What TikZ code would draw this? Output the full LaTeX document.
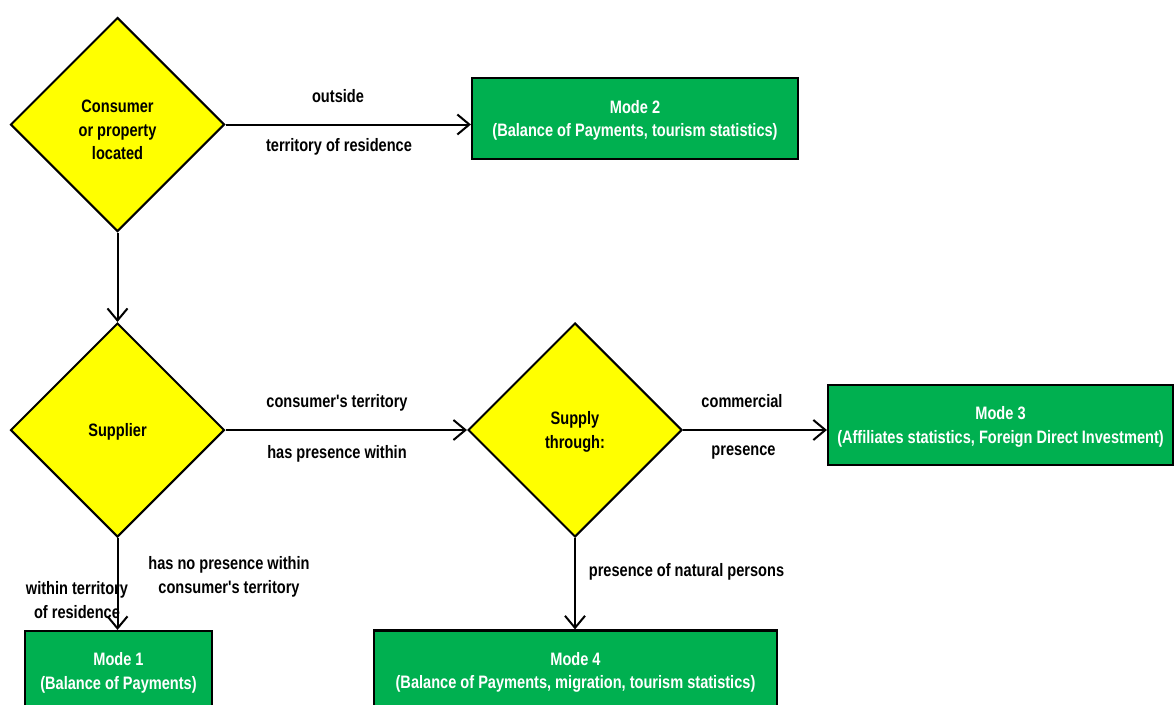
\documentclass[tikz,border=0pt]{standalone}
\usepackage{fontspec}
\setmainfont{Liberation Sans}[FakeStretch=0.81,Ligatures=TeXOff]
\usetikzlibrary{shapes.geometric,arrows.meta}
\definecolor{dyellow}{HTML}{FFFF00}
\definecolor{mgreen}{HTML}{00B050}
\begin{document}
\begin{tikzpicture}[x=1pt,y=-1pt,
  every node/.style={font=\fontsize{18}{23.5}\selectfont\bfseries},
  decision/.style={diamond,draw=black,line width=2pt,fill=dyellow,minimum width=214pt,minimum height=214pt,inner sep=0pt,align=center,aspect=1,text depth=0pt},
  modebox/.style={rectangle,draw=black,line width=2.2pt,fill=mgreen,text=white,align=center,inner sep=0pt,text depth=0pt},
  lbl/.style={inner sep=0pt,align=center,text=black},
  arr/.style={draw=black,line width=2pt,-{Straight Barb[length=12pt,width=20pt,line width=2pt]}}]
\useasboundingbox (0,0) rectangle (1175,704);
\clip (0,0) rectangle (1175,704);
% decisions
\node[decision] (D1) at (117.5,124.5) {\\[0pt]Consumer\\or property\\located};
\node[decision] (D2) at (117.5,430) {Supplier};
\node[decision] (D3) at (575,430) {Supply\\through:};
% mode boxes
\node[modebox,minimum width=326pt,minimum height=81pt] (M2) at (635,118.5) {Mode 2\\(Balance of Payments, tourism statistics)};
\node[modebox,minimum width=345pt,minimum height=80pt] (M3) at (1000.5,425) {Mode 3\\(Affiliates statistics, Foreign Direct Investment)};
\node[modebox,minimum width=187pt,minimum height=80pt] (M1) at (118.5,671) {Mode 1\\(Balance of Payments)};
\node[modebox,minimum width=403pt,minimum height=80pt] (M4) at (575.5,670.5) {Mode 4\\(Balance of Payments, migration, tourism statistics)};
% labels
\node[lbl] (L1) at (338,96) {outside};
\node[lbl] (L2) at (339,147) {territory of residence};
\node[lbl] (L3) at (337,403) {consumer's territory};
\node[lbl] (L4) at (337,454) {has presence within};
\node[lbl] (L5) at (742,401) {commercial};
\node[lbl] (L6) at (743.5,453) {presence};
\node[lbl] (L7) at (229,577) {has no presence within\\consumer's territory};
\node[lbl] (L8) at (77,600) {within territory\\of residence};
\node[lbl] (L9) at (686.5,572) {presence of natural persons};
% connectors
\draw[arr] (D1.east) -- (D1.east -| M2.west);
\draw[arr] (D1.south) -- (D2.north);
\draw[arr] (D2.east) -- (D3.west);
\draw[arr] (D3.east) -- (D3.east -| M3.west);
\draw[arr] (D2.south) -- (D2.south |- M1.north);
\draw[arr] (D3.south) -- (D3.south |- M4.north);
\end{tikzpicture}
\end{document}
